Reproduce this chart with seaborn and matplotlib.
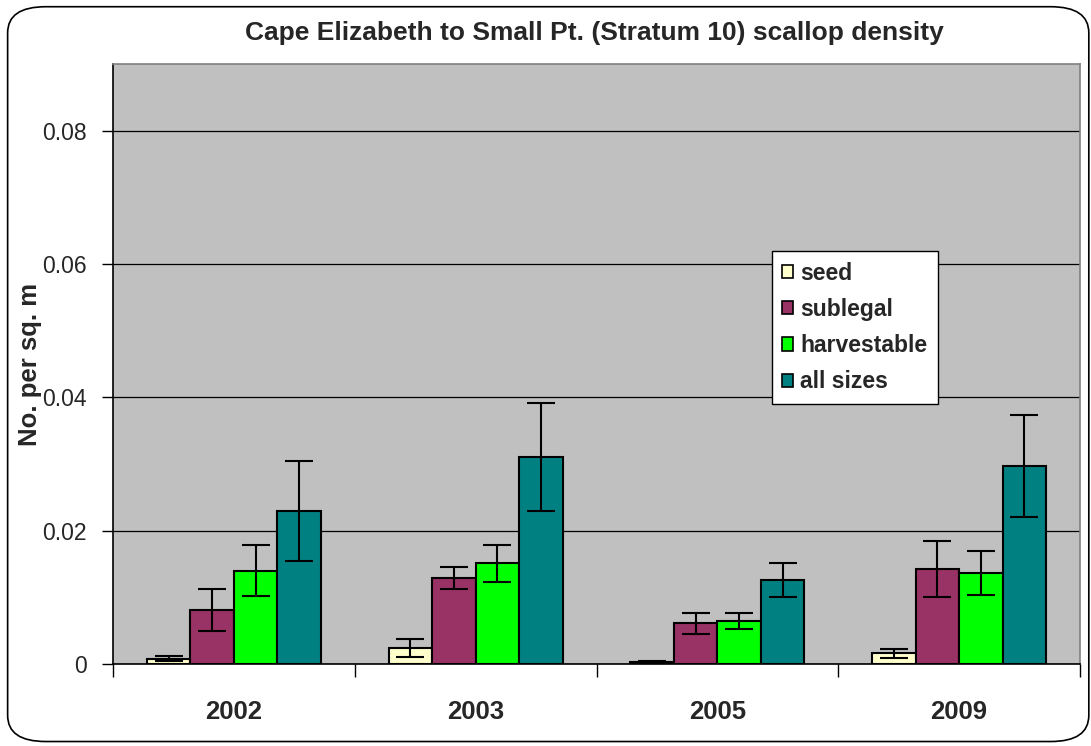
import numpy as np
import pandas as pd
import matplotlib
matplotlib.use("Agg")
import matplotlib.pyplot as plt
from matplotlib.patches import FancyBboxPatch
import seaborn as sns

# data
years = ["2002", "2003", "2005", "2009"]
sizes = ["seed", "sublegal", "harvestable", "all sizes"]
seed = [0.0008, 0.0024, 0.0003, 0.0016]
sublegal = [0.0081, 0.0129, 0.0061, 0.0142]
harvestable = [0.0140, 0.0151, 0.0064, 0.0137]
all_sizes = [0.0229, 0.0310, 0.0126, 0.0297]
seed_err = [0.0004, 0.0014, 0.0001, 0.0007]
sublegal_err = [0.0031, 0.0017, 0.0016, 0.0042]
harvestable_err = [0.0038, 0.0028, 0.0012, 0.0033]
all_sizes_err = [0.0075, 0.0081, 0.0026, 0.0077]

colors = ["#FFFFCC", "#993366", "#00FF00", "#008080"]

values = [seed, sublegal, harvestable, all_sizes]
errors = [seed_err, sublegal_err, harvestable_err, all_sizes_err]
rows = []
for s, vals, errs in zip(sizes, values, errors):
    for y, v, e in zip(years, vals, errs):
        rows.append({"year": y, "size": s, "density": v, "err": e})
df = pd.DataFrame(rows)

sns.set_style("white")
plt.rcParams["font.family"] = ["Liberation Sans", "DejaVu Sans"]

fig = plt.figure(figsize=(10.91, 7.46), dpi=100)
ax = fig.add_axes([0.1036, 0.1099, 0.8863, 0.8043])
ax.set_facecolor("#C0C0C0")

sns.barplot(data=df, x="year", y="density", hue="size", order=years,
            hue_order=sizes, palette=colors, saturation=1, errorbar=None,
            width=0.72, edgecolor="black", linewidth=1.5, ax=ax, zorder=3)

# error bars on top of each bar
for cont, s in zip(ax.containers, sizes):
    sub = df[df["size"] == s].set_index("year").loc[years]
    xs = [p.get_x() + p.get_width() / 2 for p in cont.patches]
    ax.errorbar(xs, sub["density"], yerr=sub["err"], fmt="none",
                ecolor="black", elinewidth=1.5, capsize=10, capthick=1.5,
                zorder=4)

ax.set_ylim(0, 0.09)
ax.set_xlim(-0.5, 3.5)
ax.set_yticks([0, 0.02, 0.04, 0.06, 0.08])
ax.set_yticklabels(["0", "0.02", "0.04", "0.06", "0.08"], fontsize=16.5)
ax.yaxis.grid(True, color="black", linewidth=0.9, zorder=1)
ax.set_axisbelow(True)

ax.set_xticks([-0.5, 0.5, 1.5, 2.5, 3.5])
ax.set_xticklabels([])
ax.set_xticks(range(len(years)), minor=True)
ax.set_xticklabels(years, minor=True, fontsize=18.5, fontweight="bold")
ax.tick_params(axis="x", which="major", direction="out", length=9,
               width=1, color="black", bottom=True)
ax.tick_params(axis="x", which="minor", length=0, pad=26)
ax.tick_params(axis="y", direction="out", length=8, width=1,
               color="black", left=True, pad=11)

ax.set_xlabel("")
ax.set_ylabel("No. per sq. m", fontsize=18.5, fontweight="bold")
ax.yaxis.set_label_coords(-0.073, 0.5)

for side in ["top", "right"]:
    ax.spines[side].set_color("#808080")
    ax.spines[side].set_linewidth(1.2)
for side in ["left", "bottom"]:
    ax.spines[side].set_color("black")
    ax.spines[side].set_linewidth(1.2)

leg = ax.legend(loc="upper left", bbox_to_anchor=(0.681, 0.688),
                frameon=True, fancybox=False, framealpha=1,
                edgecolor="black", prop={"weight": "bold", "size": 16.5},
                handlelength=0.5, handleheight=0.5, handletextpad=0.3,
                labelspacing=0.58, borderpad=0.45, borderaxespad=0)
leg.get_frame().set_linewidth(1)
for h in leg.legend_handles:
    h.set_linewidth(1.2)
    h.set_edgecolor("black")

fig.text(0.545, 0.956, "Cape Elizabeth to Small Pt. (Stratum 10) scallop density",
         ha="center", va="center", fontsize=19, fontweight="bold")

# rounded outer border of the chart area
border = FancyBboxPatch((0.007, 0.006), 0.991, 0.985,
                        boxstyle="round,pad=0,rounding_size=0.035",
                        transform=fig.transFigure, facecolor="none",
                        edgecolor="black", linewidth=1.2)
fig.patches.append(border)

fig.savefig("out.png", dpi=100)
